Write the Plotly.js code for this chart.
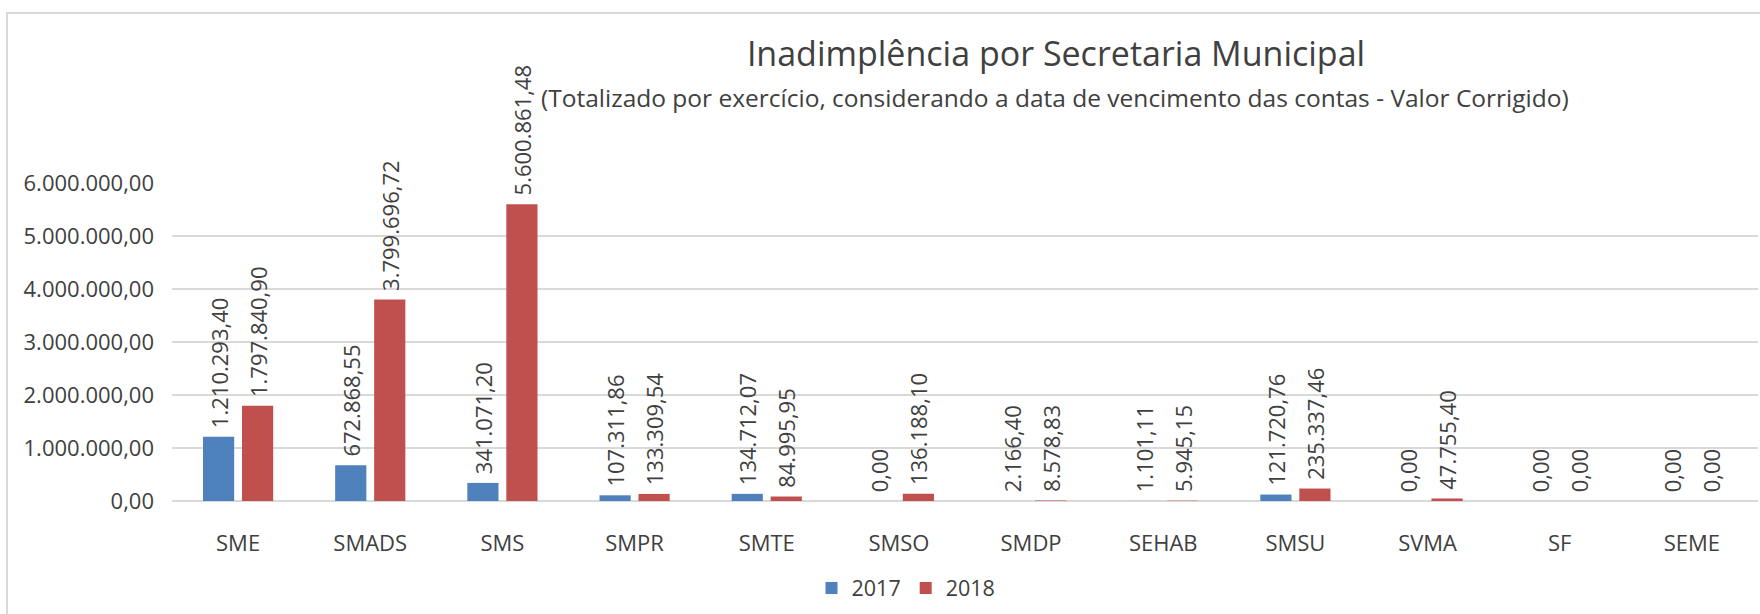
<!DOCTYPE html>
<html>
<head>
<meta charset="utf-8">
<script src="https://cdn.plot.ly/plotly-3.0.1.min.js"></script>
<style>html,body{margin:0;padding:0;background:#fff;overflow:hidden}</style>
</head>
<body>
<div id="chart" style="width:1760px;height:614px"></div>
<script>
// ---- data ----
const categories = ['SME','SMADS','SMS','SMPR','SMTE','SMSO','SMDP','SEHAB','SMSU','SVMA','SF','SEME'];
const values2017 = [1210293.40, 672868.55, 341071.20, 107311.86, 134712.07, 0, 2166.40, 1101.11, 121720.76, 0, 0, 0];
const values2018 = [1797840.90, 3799696.72, 5600861.48, 133309.54, 84995.95, 136188.10, 8578.83, 5945.15, 235337.46, 47755.40, 0, 0];
const seriesNames = ['2017', '2018'];
const yTickValues = [0, 1000000, 2000000, 3000000, 4000000, 5000000, 6000000];
const titleText = 'Inadimplência por Secretaria Municipal';
const subtitleText = '(Totalizado por exercício, considerando a data de vencimento das contas - Valor Corrigido)';

// ---- helpers ----
function fmtBR(v) {
  const parts = v.toFixed(2).split('.');
  parts[0] = parts[0].replace(/\B(?=(\d{3})+(?!\d))/g, '.');
  return parts[0] + ',' + parts[1];
}

const W = 1760, H = 614;
const M = {l: 172, r: 2, t: 183, b: 113};
const plotW = W - M.l - M.r, plotH = H - M.t - M.b;
const px2x = px => (px - M.l) / plotW;
const py2y = py => (H - M.b - py) / plotH;

const FONT = '"Open Sans", "Noto Sans", sans-serif';
const TXT = '#404040';

function barTrace(name, vals, color) {
  return {
    type: 'bar',
    name: name,
    x: categories,
    y: vals,
    marker: {color: color},
    text: vals.map(v => '\u00a0' + fmtBR(v)),
    textposition: 'outside',
    textangle: -90,
    constraintext: 'none',
    cliponaxis: false,
    textfont: {family: FONT, size: 22, color: TXT},
    hoverinfo: 'x+y'
  };
}

const data = [
  barTrace(seriesNames[0], values2017, '#4F81BD'),
  barTrace(seriesNames[1], values2018, '#C0504D')
];

const layout = {
  width: W, height: H,
  margin: M,
  paper_bgcolor: '#ffffff',
  plot_bgcolor: '#ffffff',
  barmode: 'group',
  bargap: 0.41,
  bargroupgap: 0.2,
  font: {family: FONT, color: TXT},
  title: {
    text: titleText,
    font: {family: FONT, size: 34, color: TXT},
    xref: 'container', yref: 'container',
    x: 1056 / W, xanchor: 'center',
    y: 1 - 54 / H, yanchor: 'middle'
  },
  annotations: [{
    text: subtitleText,
    xref: 'paper', yref: 'paper',
    x: px2x(1055), y: py2y(98),
    xanchor: 'center', yanchor: 'middle',
    showarrow: false,
    font: {family: FONT, size: 24.5, color: TXT}
  }],
  xaxis: {
    type: 'category',
    showgrid: false,
    showline: false,
    zeroline: false,
    ticks: '',
    ticklabelstandoff: 27,
    tickfont: {family: FONT, size: 22, color: TXT}
  },
  yaxis: {
    range: [0, 6000000],
    tickvals: yTickValues,
    ticktext: yTickValues.map(fmtBR),
    showgrid: true,
    gridcolor: '#d9d9d9',
    gridwidth: 2,
    zeroline: true,
    zerolinecolor: '#d9d9d9',
    zerolinewidth: 2,
    showline: false,
    ticks: '',
    ticklabelstandoff: 17,
    tickfont: {family: FONT, size: 22, color: TXT}
  },
  showlegend: true,
  legend: {
    orientation: 'h',
    x: px2x(906), xanchor: 'center',
    y: py2y(588), yanchor: 'middle',
    font: {family: FONT, size: 21.5, color: TXT},
    bgcolor: 'rgba(0,0,0,0)'
  },
  shapes: [{
    type: 'rect',
    xref: 'paper', yref: 'paper',
    x0: px2x(7), x1: px2x(1800),
    y0: py2y(13), y1: py2y(700),
    line: {color: '#d9d9d9', width: 2},
    fillcolor: 'rgba(0,0,0,0)',
    layer: 'below'
  }]
};

Plotly.newPlot('chart', data, layout, {displayModeBar: false, staticPlot: true});
</script>
</body>
</html>
